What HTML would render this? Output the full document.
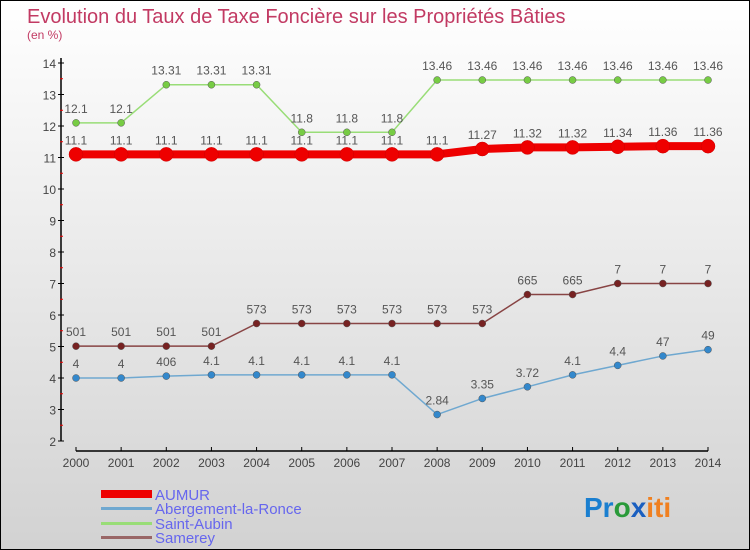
<!DOCTYPE html>
<html><head><meta charset="utf-8"><style>
body{margin:0}
#c{width:748px;height:548px;border:1px solid #000;background:linear-gradient(#ffffff,#d2d2d2);position:relative;font-family:"Liberation Sans",sans-serif;overflow:hidden}
svg text{font-family:"Liberation Sans",sans-serif}
</style></head><body>
<div id="c">
<svg width="748" height="548">
<text x="26" y="22" font-size="20" fill="#c23a63">Evolution du Taux de Taxe Foncière sur les Propriétés Bâties</text>
<text x="26" y="38" font-size="12" fill="#c23a63">(en %)</text>
<g id="g"></g>
<g>
<rect x="100" y="489" width="51" height="8" fill="#ee0000"/>
<text x="154" y="499" font-size="15" fill="#6666ee">AUMUR</text>
<rect x="100" y="506" width="51" height="3" fill="#6fa8d0"/>
<text x="154" y="513" font-size="15" fill="#6666ee">Abergement-la-Ronce</text>
<rect x="100" y="521" width="51" height="3" fill="#99dd77"/>
<text x="154" y="528" font-size="15" fill="#6666ee">Saint-Aubin</text>
<rect x="100" y="535" width="51" height="3" fill="#996666"/>
<text x="154" y="542" font-size="15" fill="#6666ee">Samerey</text>
</g>
<text x="583" y="516" font-size="28" font-weight="bold"><tspan fill="#1a7fd0">Pr</tspan><tspan fill="#2a9a3a">o</tspan><tspan fill="#1a5fc0">x</tspan><tspan fill="#f08020">iti</tspan></text>
</svg>
</div>
<script>
const years=[2000,2001,2002,2003,2004,2005,2006,2007,2008,2009,2010,2011,2012,2013,2014];
const yTicks=[2,3,4,5,6,7,8,9,10,11,12,13,14];
const aumur=[11.1,11.1,11.1,11.1,11.1,11.1,11.1,11.1,11.1,11.27,11.32,11.32,11.34,11.36,11.36];
const aumurLabels=["11.1","11.1","11.1","11.1","11.1","11.1","11.1","11.1","11.1","11.27","11.32","11.32","11.34","11.36","11.36"];
const aberg=[4,4,4.06,4.1,4.1,4.1,4.1,4.1,2.84,3.35,3.72,4.1,4.4,4.7,4.9];
const abergLabels=["4","4","406","4.1","4.1","4.1","4.1","4.1","2.84","3.35","3.72","4.1","4.4","47","49"];
const aubin=[12.1,12.1,13.31,13.31,13.31,11.8,11.8,11.8,13.46,13.46,13.46,13.46,13.46,13.46,13.46];
const aubinLabels=["12.1","12.1","13.31","13.31","13.31","11.8","11.8","11.8","13.46","13.46","13.46","13.46","13.46","13.46","13.46"];
const samerey=[5.01,5.01,5.01,5.01,5.73,5.73,5.73,5.73,5.73,5.73,6.65,6.65,7,7,7];
const samereyLabels=["501","501","501","501","573","573","573","573","573","573","665","665","7","7","7"];
const NS="http://www.w3.org/2000/svg";
const g=document.getElementById('g');
const X=i=>75+i*(707-75)/(years.length-1);
const Y=v=>440-(v-2)*(440-62)/12;
function mk(t,a){const e=document.createElementNS(NS,t);for(const k in a)e.setAttribute(k,a[k]);g.appendChild(e);return e;}
let e=mk('line',{x1:60,y1:57,x2:60,y2:440,stroke:'#000','stroke-width':1.5});


e=mk('line',{x1:75,y1:450,x2:707,y2:450,stroke:'#000','stroke-width':1.5});


yTicks.forEach(v=>{
 const l=mk('line',{x1:57,x2:63,y1:Y(v),y2:Y(v),stroke:'#000'});
 
 
 if(v<14){const m=mk('line',{x1:59,x2:62,y1:Y(v+0.5),y2:Y(v+0.5),stroke:'#e00'});
 
 }
 const t=mk('text',{x:55,y:Y(v)+5,'font-size':12,fill:'#444','text-anchor':'end'});t.textContent=v;
 
 
});
years.forEach((y,i)=>{
 const l=mk('line',{x1:X(i),x2:X(i),y1:446,y2:450,stroke:'#000'});
 
 
 const t=mk('text',{x:X(i),y:466,'font-size':12,fill:'#444','text-anchor':'middle'});t.textContent=y;
 
 
});
function series(vals,labs,color,dot,w,r,name){
 const p=mk('polyline',{points:vals.map((v,i)=>X(i)+','+Y(v)).join(' '),fill:'none',stroke:color,'stroke-width':w});
 
 
 vals.forEach((v,i)=>{
  const c=mk('circle',{cx:X(i),cy:Y(v),r:r,fill:dot,stroke:color==='#ee0000'?'#c00':'#555','stroke-width':0.5});
  
  
  const t=mk('text',{x:X(i),y:Y(v)-10,'font-size':12,fill:'#555','text-anchor':'middle'});t.textContent=labs[i];
  
  
 });
}
series(samerey,samereyLabels,'#884444','#772222',1.5,3.5,'samerey');
series(aberg,abergLabels,'#6fa8d0','#3388cc',1.5,3.5,'abergement');
series(aubin,aubinLabels,'#99dd77','#77cc44',1.5,3.5,'saint-aubin');
series(aumur,aumurLabels,'#ee0000','#ee0000',8,7,'aumur');
</script>
</body></html>
